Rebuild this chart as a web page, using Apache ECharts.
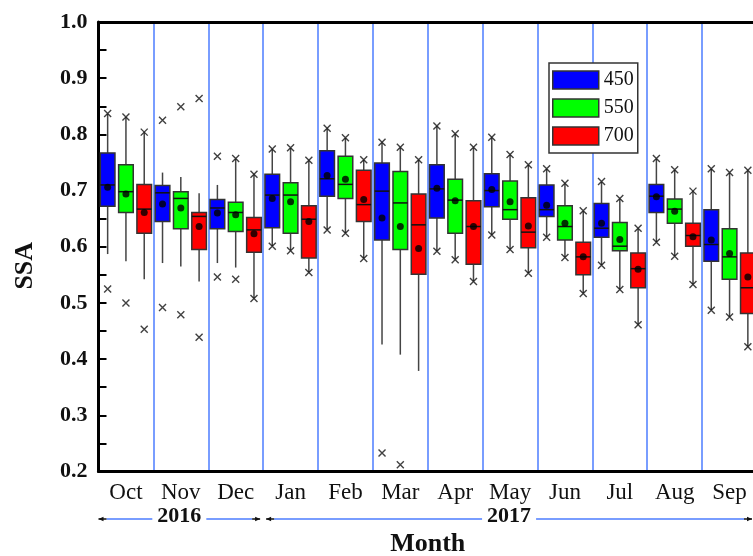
<!DOCTYPE html>
<html>
<head>
<meta charset="utf-8">
<script src="https://cdn.jsdelivr.net/npm/echarts@6/dist/echarts.min.js"></script>
<style>
html,body{margin:0;padding:0;background:#fff;}
#chart{width:753px;height:556px;}
</style>
</head>
<body>
<div id="chart"></div>
<script>
// ---- data ----
const months = ['Oct','Nov','Dec','Jan','Feb','Mar','Apr','May','Jun','Jul','Aug','Sep'];
const wavelengths = ['450','550','700'];
const colors = ['#0000FF','#00FF00','#FF0000'];

// 450 nm
const low450  = [0.587,0.571,0.571,0.601,0.630,0.426,0.592,0.621,0.617,0.567,0.608,0.487];
const q1_450  = [0.672,0.645,0.632,0.634,0.690,0.612,0.651,0.671,0.654,0.617,0.661,0.574];
const med450  = [0.710,0.696,0.669,0.692,0.721,0.699,0.703,0.700,0.666,0.633,0.690,0.604];
const q3_450  = [0.767,0.709,0.684,0.729,0.771,0.749,0.746,0.730,0.710,0.677,0.711,0.666];
const high450 = [0.837,0.732,0.710,0.774,0.811,0.786,0.815,0.795,0.739,0.716,0.757,0.739];
const mean450 = [0.706,0.676,0.660,0.686,0.727,0.651,0.704,0.702,0.674,0.642,0.689,0.612];
const xHigh450 = [0.837,0.825,0.761,0.774,0.811,0.786,0.815,0.795,0.739,0.716,0.757,0.739];
const xLow450  = [0.525,0.492,0.546,0.601,0.630,0.233,0.592,0.621,0.617,0.567,0.608,0.487];

// 550 nm
const low550  = [0.574,0.565,0.563,0.593,0.624,0.408,0.577,0.595,0.581,0.524,0.583,0.475];
const q1_550  = [0.661,0.632,0.627,0.624,0.686,0.595,0.624,0.649,0.612,0.593,0.642,0.542];
const med550  = [0.698,0.686,0.661,0.692,0.711,0.678,0.683,0.666,0.636,0.601,0.667,0.582];
const q3_550  = [0.746,0.698,0.679,0.714,0.761,0.734,0.720,0.717,0.673,0.643,0.685,0.632];
const high550 = [0.831,0.724,0.757,0.776,0.794,0.777,0.801,0.764,0.713,0.686,0.737,0.732];
const mean550 = [0.694,0.669,0.657,0.680,0.720,0.636,0.682,0.680,0.642,0.613,0.663,0.588];
const xHigh550 = [0.831,0.849,0.757,0.776,0.794,0.777,0.801,0.764,0.713,0.686,0.737,0.732];
const xLow550  = [0.500,0.479,0.542,0.593,0.624,0.212,0.577,0.595,0.581,0.524,0.583,0.475];

// 700 nm
const low700  = [0.542,0.538,0.508,0.554,0.579,0.379,0.538,0.553,0.517,0.461,0.533,0.422];
const q1_700  = [0.624,0.595,0.590,0.580,0.645,0.551,0.569,0.598,0.550,0.527,0.601,0.481];
const med700  = [0.667,0.654,0.630,0.649,0.675,0.639,0.636,0.626,0.582,0.561,0.620,0.527];
const q3_700  = [0.711,0.661,0.652,0.673,0.736,0.694,0.682,0.687,0.608,0.589,0.642,0.589];
const high700 = [0.804,0.695,0.729,0.754,0.755,0.755,0.777,0.746,0.664,0.633,0.699,0.736];
const mean700 = [0.661,0.636,0.623,0.645,0.684,0.597,0.636,0.637,0.582,0.560,0.618,0.546];
const xHigh700 = [0.804,0.864,0.729,0.754,0.755,0.755,0.777,0.746,0.664,0.633,0.699,0.736];
const xLow700  = [0.453,0.439,0.508,0.554,0.579,null,0.538,0.553,0.517,0.461,0.533,0.422];

const yTicks = [0.2,0.3,0.4,0.5,0.6,0.7,0.8,0.9,1.0];
const yearSpans = [{label:'2016', from:0, to:2},{label:'2017', from:3, to:11}];

// ---- build ----
const groups = [
  {low:low450, q1:q1_450, med:med450, q3:q3_450, high:high450, mean:mean450, xh:xHigh450, xl:xLow450},
  {low:low550, q1:q1_550, med:med550, q3:q3_550, high:high550, mean:mean550, xh:xHigh550, xl:xLow550},
  {low:low700, q1:q1_700, med:med700, q3:q3_700, high:high700, mean:mean700, xh:xHigh700, xl:xLow700}
];
const cats = [];
for (let i = 0; i < months.length * 3; i++) cats.push(String(i));
const nCats = cats.length;

const FONT = '"Liberation Serif","Times New Roman",serif';
const xMarker = 'path://M0,0L10,10M10,0L0,10';

function renderBox(params, api) {
  const k = api.value(0);
  const lo = api.coord([k, api.value(1)]);
  const q1 = api.coord([k, api.value(2)]);
  const md = api.coord([k, api.value(3)]);
  const q3 = api.coord([k, api.value(4)]);
  const hi = api.coord([k, api.value(5)]);
  const w = api.size([1, 0])[0] * 0.8;
  const x = lo[0];
  return {
    type: 'group',
    children: [
      {type:'line', shape:{x1:x, y1:hi[1], x2:x, y2:lo[1]}, style:{stroke:'#444', lineWidth:1.5}},
      {type:'rect', shape:{x:x - w/2, y:q3[1], width:w, height:q1[1] - q3[1]},
        style:{fill: api.visual('color'), stroke:'#333', lineWidth:1.5}},
      {type:'line', shape:{x1:x - w/2, y1:md[1], x2:x + w/2, y2:md[1]}, style:{stroke:'#111', lineWidth:1.5}}
    ]
  };
}

const series = [];
groups.forEach((g, s) => {
  series.push({
    name: wavelengths[s],
    type: 'custom',
    renderItem: renderBox,
    itemStyle: {color: colors[s]},
    encode: {x: 0, y: [1,2,3,4,5]},
    z: 2,
    data: months.map((m, i) => [3*i + s, g.low[i], g.q1[i], g.med[i], g.q3[i], g.high[i]])
  });
});
groups.forEach((g, s) => {
  series.push({
    name: 'mean' + wavelengths[s],
    type: 'scatter',
    symbol: 'circle',
    symbolSize: 7,
    itemStyle: {color: '#000'},
    z: 4,
    data: g.mean.map((v, i) => [3*i + s, v])
  });
  const xs = [];
  g.xh.forEach((v, i) => { if (v != null) xs.push([3*i + s, v]); });
  g.xl.forEach((v, i) => { if (v != null) xs.push([3*i + s, v]); });
  series.push({
    name: 'x' + wavelengths[s],
    type: 'scatter',
    symbol: xMarker,
    symbolSize: 7,
    itemStyle: {color: 'rgba(0,0,0,0)', borderColor: '#111', borderWidth: 1.4},
    z: 4,
    data: xs
  });
});

const chart = echarts.init(document.getElementById('chart'), null, {renderer: 'canvas'});
chart.setOption({
  animation: false,
  backgroundColor: '#fff',
  grid: {left: 98.5, top: 22, width: 658.5, height: 449.5, show: false,
         containLabel: false, outerBoundsMode: 'none'},
  legend: {
    data: wavelengths,
    orient: 'vertical',
    left: 549, top: 63,
    itemWidth: 46, itemHeight: 18, itemGap: 8,
    padding: [7, 4, 7, 3],
    icon: 'rect',
    backgroundColor: '#fff',
    borderColor: '#333', borderWidth: 1.5,
    itemStyle: {borderColor: '#333', borderWidth: 1.5},
    textStyle: {fontFamily: FONT, fontSize: 20, color: '#111'},
    selectedMode: false
  },
  xAxis: [{
    type: 'category',
    data: cats,
    boundaryGap: true,
    name: 'Month',
    nameLocation: 'middle',
    nameGap: 60,
    nameTextStyle: {fontFamily: FONT, fontSize: 26, fontWeight: 'bold', color: '#111'},
    axisLine: {show: true, lineStyle: {color: '#000', width: 3}},
    axisTick: {show: false},
    axisLabel: {
      interval: 0, margin: 10,
      fontFamily: FONT, fontSize: 23, color: '#111',
      formatter: (v, i) => (i % 3 === 1 ? months[(i - 1) / 3] : '')
    },
    splitLine: {
      show: true,
      interval: (i) => i > 0 && i < nCats && i % 3 === 0,
      lineStyle: {color: '#4d7dff', width: 1.5}
    }
  }, {
    type: 'category',
    data: cats,
    position: 'top',
    boundaryGap: true,
    axisLine: {show: true, lineStyle: {color: '#000', width: 3}},
    axisTick: {show: false},
    axisLabel: {show: false},
    splitLine: {show: false}
  }],
  yAxis: {
    type: 'value',
    min: 0.2, max: 1.0, interval: 0.1,
    name: 'SSA',
    nameLocation: 'middle',
    nameGap: 60,
    nameTextStyle: {fontFamily: FONT, fontSize: 26, fontWeight: 'bold', color: '#111', padding: [0, 38, 0, 0]},
    axisLine: {show: true, lineStyle: {color: '#000', width: 3}},
    axisTick: {show: true, inside: true, length: 8, lineStyle: {color: '#000', width: 2}},
    minorTick: {show: true, splitNumber: 2, length: 8, lineStyle: {color: '#000', width: 2}},
    axisLabel: {
      margin: 11, fontFamily: FONT, fontSize: 22, fontWeight: 'bold', color: '#111',
      formatter: (v) => (yTicks.some(t => Math.abs(t - v) < 1e-6) ? v.toFixed(1) : '')
    },
    splitLine: {show: false}
  },
  series: series
});

// year brackets below the month labels, positioned via the axis scales
function drawYears() {
  const px = (k) => chart.convertToPixel({xAxisIndex: 0}, k);
  const half = (px(1) - px(0)) / 2;
  const yBase = chart.convertToPixel({yAxisIndex: 0}, 0.2);
  const ly = yBase + 47.5;
  const ty = yBase + 45;
  const W = chart.getWidth();
  const els = [];
  yearSpans.forEach((sp) => {
    let x0 = px(sp.from * 3) - half + (sp.from === 0 ? 0 : 3);
    let x1 = Math.min(px(sp.to * 3 + 2) + half - 3, W - 1);
    const xc = (x0 + x1) / 2;
    const tw = 46;
    els.push({type:'line', shape:{x1:x0 + 8, y1:ly, x2:xc - tw/2 - 4, y2:ly}, style:{stroke:'#4d7dff', lineWidth:1.5}, silent:true});
    els.push({type:'line', shape:{x1:xc + tw/2 + 4, y1:ly, x2:x1 - 8, y2:ly}, style:{stroke:'#4d7dff', lineWidth:1.5}, silent:true});
    els.push({type:'line', shape:{x1:x0, y1:ly, x2:x0 + 8, y2:ly}, style:{stroke:'#111', lineWidth:1.5}, silent:true});
    els.push({type:'polygon', shape:{points:[[x0, ly], [x0 + 5, ly - 2.2], [x0 + 5, ly + 2.2]]}, style:{fill:'#111'}, silent:true});
    els.push({type:'line', shape:{x1:x1 - 8, y1:ly, x2:x1, y2:ly}, style:{stroke:'#111', lineWidth:1.5}, silent:true});
    els.push({type:'polygon', shape:{points:[[x1, ly], [x1 - 5, ly - 2.2], [x1 - 5, ly + 2.2]]}, style:{fill:'#111'}, silent:true});
    els.push({type:'text', x: xc, y: ty, style:{text: sp.label, fontFamily: FONT, fontSize: 22, fontWeight: 'bold',
      fill:'#111', align:'center', verticalAlign:'middle'}, silent:true});
  });
  chart.setOption({graphic: els});
}
drawYears();
</script>
</body>
</html>
